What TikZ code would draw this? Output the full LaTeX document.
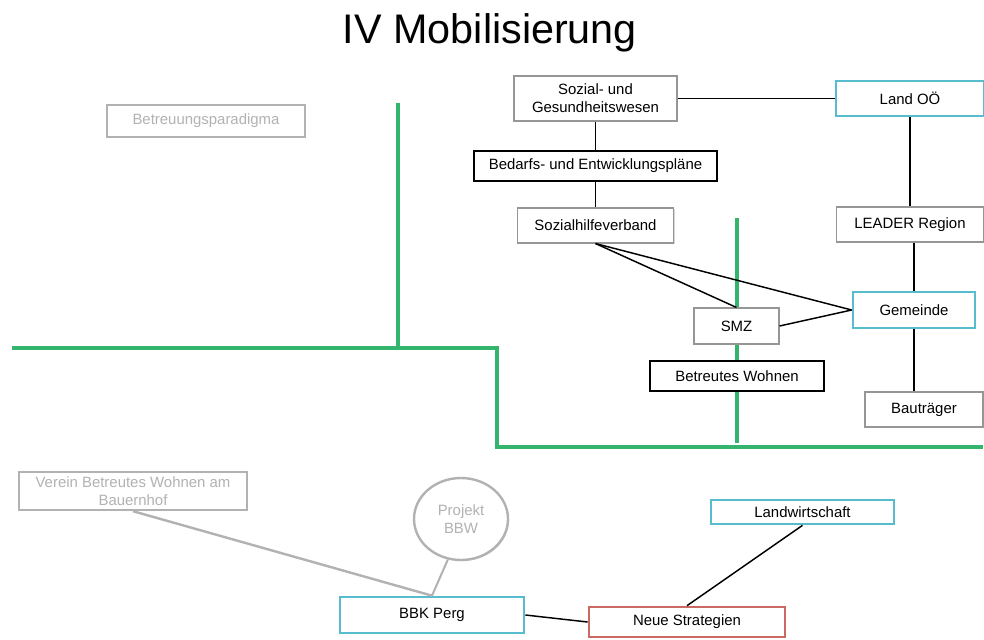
\documentclass[tikz,border=0pt]{standalone}
\usepackage{fontspec}
\setmainfont{Liberation Sans}
\usepackage{tikz}
\usetikzlibrary{shapes,shadows}
\definecolor{mob_blue}{RGB}{86, 188, 206}
\definecolor{mob_red}{RGB}{203, 106, 98}
\definecolor{mob_green}{RGB}{52, 181, 110}
\definecolor{mob_grey}{RGB}{150, 150, 150}
\definecolor{mob_light}{RGB}{178, 178, 178}
\tikzstyle{bx}=[rectangle,fill=white,draw=mob_grey,line width=0.8pt,inner sep=2pt,
  align=center,font=\fontsize{11.2}{13.5}\selectfont,
  drop shadow={opacity=0.3,shadow xshift=0.8pt,shadow yshift=-0.8pt}]
\tikzstyle{bn}=[bx,draw=mob_blue,line width=2pt]
\tikzstyle{kn}=[bx,draw=black,line width=2.2pt]
\tikzstyle{rdn}=[bx,draw=mob_red,line width=2pt]
\tikzstyle{gy}=[bx,draw=mob_light,line width=1.8pt,text=mob_light]
\tikzstyle{grn}=[draw=mob_green,line width=2.4pt]
\tikzstyle{ln}=[draw=black,line width=1.1pt]

\begin{document}
\begin{tikzpicture}[x=0.75pt,y=-0.75pt]
    \fill[white] (0,0) rectangle (984,639);
    \useasboundingbox (0,0) rectangle (984,639);
    \node [anchor=base,font=\fontsize{31}{36}\selectfont] (title) at (490,43) {IV Mobilisierung};
    % green dividers
    \draw [style=grn] (12,348) -- (497,348) -- (497,447) -- (983,447);
    \draw [style=grn] (398,103) -- (398,348);
    \draw [style=grn] (737,218) -- (737,443);
    \node [style=bx,minimum width=122.25pt,minimum height=33.75pt] (soz) at (595.5,98.5) {Sozial- und\\Gesundheitswesen};
    \node [style=bn,minimum width=111pt,minimum height=26.25pt] (land) at (910,98.5) {Land OÖ};
    \node [style=kn,minimum width=182.25pt,minimum height=22.5pt] (plan) at (595.5,166) {Bedarfs- und Entwicklungspläne};
    \node [style=bx,minimum width=117pt,minimum height=26.25pt] (shv) at (595.5,225.5) {Sozialhilfeverband};
    \node [style=bx,minimum width=110.25pt,minimum height=26.25pt] (leader) at (910,224.5) {LEADER Region};
    \node [style=bn,minimum width=91.5pt,minimum height=27pt] (gem) at (914,310) {Gemeinde};
    \node [style=bx,minimum width=63.75pt,minimum height=27pt] (smz) at (736.5,326) {SMZ};
    \node [style=kn,minimum width=130.5pt,minimum height=22.5pt] (bw) at (737,376) {Betreutes Wohnen};
    \node [style=bx,minimum width=88.5pt,minimum height=26.25pt] (bau) at (924,409.5) {Bauträger};
    \node [style=gy,minimum width=148.5pt,minimum height=24pt] (para) at (206,121) {Betreuungsparadigma};
    \node [style=gy,minimum width=171pt,minimum height=28.5pt,inner sep=0pt] (verein) at (133,491) {Verein Betreutes Wohnen am\\Bauernhof};
    \node [style=gy,ellipse,minimum width=70.5pt,minimum height=61.5pt,inner sep=0pt] (bbw) at (461,519) {Projekt\\BBW};
    \node [style=bn,minimum width=138pt,minimum height=27pt] (bbk) at (432,615) {BBK Perg};
    \node [style=rdn,minimum width=147pt,minimum height=22.5pt] (neue) at (687,622) {Neue Strategien};
    \node [style=bn,minimum width=137.25pt,minimum height=18pt] (landw) at (802.5,512) {Landwirtschaft};
    \draw [style=ln] (soz) to (land);
    \draw [style=ln] (soz) to (plan);
    \draw [style=ln] (plan) to (shv);
    \draw [style=ln] (land) to (leader);
    \draw [style=ln] (leader.south -| gem.north) to (gem);
    \draw [style=ln] (gem) to (gem.south |- bau.north);
    \draw [style=ln] (shv.south) to (smz.north);
    \draw [style=ln] (shv.south) to (gem.west);
    \draw [style=ln] (smz.east) to (gem.west);
    \draw [style=ln] (bbk.east) to (neue.west);
    \draw [style=ln] (landw.south) to (neue.north);
    \draw [draw=mob_light,line width=1.8pt] (verein.south) to (bbk.north);
    \draw [draw=mob_light,line width=1.5pt] (bbw.252) to (bbk.north);
  \end{tikzpicture}
\end{document}
